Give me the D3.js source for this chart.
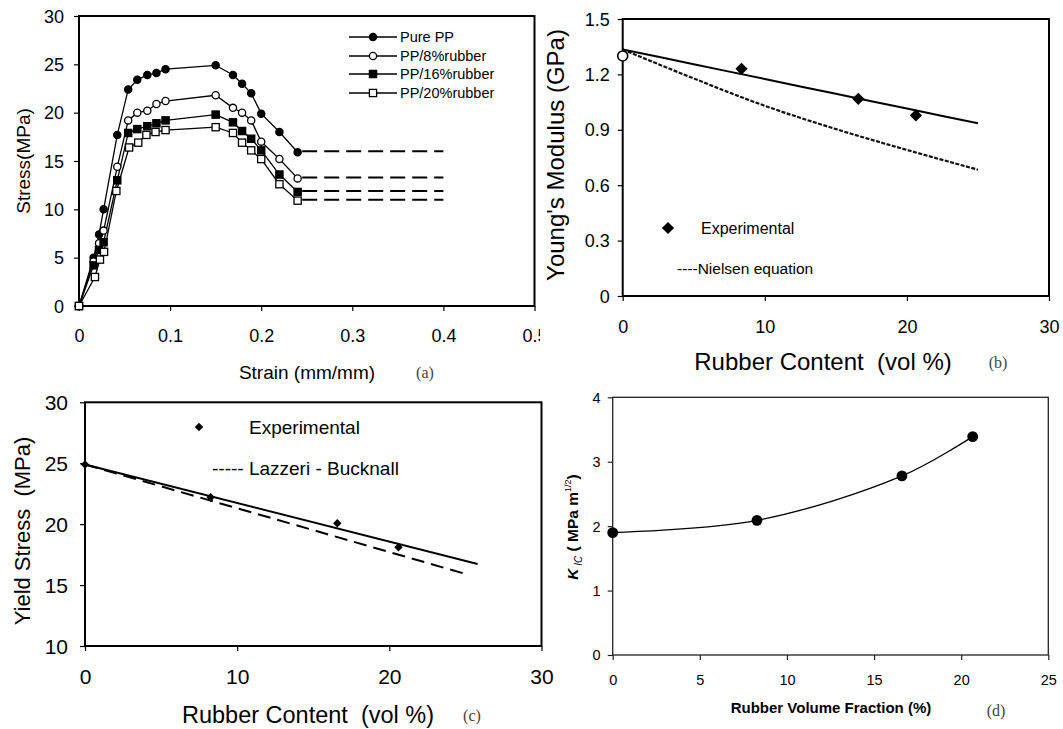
<!DOCTYPE html>
<html><head><meta charset="utf-8">
<script src="https://cdn.jsdelivr.net/npm/d3@7"></script>
<style>
body{margin:0;background:#fff}
svg text{font-family:"Liberation Sans",Arial,sans-serif;fill:#000;white-space:pre}
</style>
</head><body>
<script>
// ---------- Panel (a): stress-strain curves ----------
const seriesNames = ["Pure PP","PP/8%rubber","PP/16%rubber","PP/20%rubber"];
const strainPure = [0,0.016,0.022,0.027,0.042,0.054,0.064,0.075,0.085,0.095,0.15,0.169,0.179,0.189,0.2,0.22,0.24];
const stressPure = [0,5.0,7.4,10.0,17.7,22.4,23.4,23.9,24.1,24.5,24.9,23.9,23.0,22.0,19.9,18.0,15.9];
const strain8 = [0,0.016,0.022,0.027,0.042,0.054,0.064,0.075,0.085,0.095,0.15,0.169,0.179,0.189,0.2,0.22,0.24];
const stress8 = [0,4.6,6.5,7.8,14.4,19.2,20.0,20.2,20.9,21.2,21.8,20.5,20.0,19.2,17.0,15.2,13.2];
const strain16 = [0,0.016,0.022,0.027,0.042,0.054,0.064,0.075,0.085,0.095,0.15,0.169,0.179,0.189,0.2,0.22,0.24];
const stress16 = [0,4.2,5.8,6.6,13.0,17.9,18.3,18.6,18.9,19.2,19.8,19.0,18.1,17.3,16.1,13.6,11.8];
const strain20 = [0,0.0175,0.023,0.0275,0.041,0.055,0.065,0.074,0.084,0.095,0.15,0.169,0.179,0.189,0.2,0.22,0.24];
const stress20 = [0,3.0,4.8,5.6,11.9,16.4,16.9,17.7,18.0,18.2,18.5,17.9,16.9,16.1,15.2,12.6,10.9];
const plateauLevels = [16.0,13.3,11.9,11.0];
const plateauStrain = [0.245,0.4];
const aXTicks = [0,0.1,0.2,0.3,0.4,0.5];
const aYTicks = [0,5,10,15,20,25,30];

// ---------- Panel (b): Young's modulus ----------
const bPureX = [0], bPureY = [1.3];
const bExpX = [8.36,16.58,20.63];
const bExpY = [1.23,1.068,0.978];
const bFitX = [0,5,10,15,20,25];
const bFitY = [1.335,1.255,1.175,1.095,1.015,0.935];
const bNielsenX = [0,5,10,15,20,25];
const bNielsenY = [1.335,1.178,1.03,0.904,0.791,0.684];
const bXTicks = [0,10,20,30];
const bYTicks = [0,0.3,0.6,0.9,1.2,1.5];

// ---------- Panel (c): yield stress ----------
const cExpX = [0,8.26,16.58,20.6];
const cExpY = [24.9,22.2,20.07,18.1];
const cFitX = [0,25.8];
const cFitY = [24.9,16.73];
const cLBX = [0,25.04];
const cLBY = [24.9,15.9];
const cXTicks = [0,10,20,30];
const cYTicks = [10,15,20,25,30];

// ---------- Panel (d): K_IC ----------
const dX = [0,8.28,16.6,20.66];
const dY = [1.9,2.09,2.78,3.39];
const dXTicks = [0,5,10,15,20,25];
const dYTicks = [0,1,2,3,4];

const zip = (a,b)=>a.map((v,i)=>[v,b[i]]);
const svg = d3.select("body").append("svg").attr("width",1063).attr("height",729);
const defs = svg.append("defs");
defs.append("clipPath").attr("id","clipA").append("rect").attr("x",0).attr("y",0).attr("width",540).attr("height",400);

function panel(o){
  const g = svg.append("g");
  const x = d3.scaleLinear().domain(o.xd).range([o.l,o.r]);
  const y = d3.scaleLinear().domain(o.yd).range([o.b,o.t]);
  const xa = g.append("g").attr("transform",`translate(0,${o.b})`)
    .call(d3.axisBottom(x).tickValues(o.xt).tickFormat(o.xf||(d=>d)).tickSizeOuter(0).tickSizeInner(5));
  if(o.clip) xa.attr("clip-path","url(#"+o.clip+")");
  xa.selectAll("text").attr("y",o.xoff).attr("dy","0.35em").style("font-size",o.fs+"px");
  const ya = g.append("g").attr("transform",`translate(${o.l},0)`)
    .call(d3.axisLeft(y).tickValues(o.yt).tickFormat(o.yf||(d=>d)).tickSizeOuter(0).tickSizeInner(5));
  ya.selectAll("text").attr("x",-o.yoff).attr("dy","0.34em").style("font-size",o.fs+"px");
  g.selectAll(".domain").remove();
  g.selectAll(".tick line").attr("stroke",o.frameColor||"#000").attr("stroke-width",1.2);
  g.append("rect").attr("x",o.l).attr("y",o.t).attr("width",o.r-o.l).attr("height",o.b-o.t)
    .attr("fill","none").attr("stroke",o.frameColor||"#000").attr("stroke-width",o.frameW||2);
  return {g,x,y};
}

// ===== Panel a =====
{
  const {g,x,y} = panel({xd:[0,0.5],yd:[0,30],l:79,r:534.5,t:16,b:306,xt:aXTicks,yt:aYTicks,
    xf:d=>d===0?"0":d3.format(".1f")(d), fs:18, xoff:30, yoff:15, clip:"clipA"});
  const line = d3.line().x(d=>x(d[0])).y(d=>y(d[1]));
  const series = [zip(strainPure,stressPure),zip(strain8,stress8),zip(strain16,stress16),zip(strain20,stress20)];
  const kinds = ["fc","oc","fs","os"];
  plateauLevels.forEach(v=>{
    g.append("path").attr("d",line(plateauStrain.map(s=>[s,v]))).attr("fill","none")
      .attr("stroke","#000").attr("stroke-width",2).attr("stroke-dasharray","15,7");
  });
  function marker(sel,kind,cx,cy){
    if(kind==="fc"||kind==="oc"){
      sel.append("circle").attr("cx",cx).attr("cy",cy).attr("r",3.6)
        .attr("fill",kind==="fc"?"#000":"#fff").attr("stroke","#000").attr("stroke-width",1.3);
    } else {
      sel.append("rect").attr("x",cx-3.6).attr("y",cy-3.6).attr("width",7.2).attr("height",7.2)
        .attr("fill",kind==="fs"?"#000":"#fff").attr("stroke","#000").attr("stroke-width",1.3);
    }
  }
  series.forEach(s=>{
    g.append("path").attr("d",line(s)).attr("fill","none").attr("stroke","#000").attr("stroke-width",1.3);
  });
  series.forEach((s,i)=>{ s.forEach(p=>marker(g,kinds[i],x(p[0]),y(p[1]))); });
  const ly = [37,56,74,93];
  seriesNames.forEach((n,i)=>{
    g.append("line").attr("x1",349).attr("x2",397).attr("y1",ly[i]).attr("y2",ly[i]).attr("stroke","#000").attr("stroke-width",1.3);
    marker(g,kinds[i],373,ly[i]);
    g.append("text").attr("x",400).attr("y",ly[i]).attr("dy","0.35em").style("font-size","14.5px").text(n);
  });
  svg.append("text").attr("transform","translate(23,161) rotate(-90)").attr("text-anchor","middle")
    .attr("dy","0.35em").style("font-size","19px").text("Stress(MPa)");
  svg.append("text").attr("x",307).attr("y",372).attr("text-anchor","middle").attr("dy","0.35em")
    .style("font-size","19px").text("Strain (mm/mm)");
  svg.append("text").attr("x",425).attr("y",372).attr("text-anchor","middle").attr("dy","0.35em")
    .style("font-size","16px").style("font-family","'Liberation Serif',serif").style("fill","#444").text("(a)");
}

// ===== Panel b =====
{
  const {g,x,y} = panel({xd:[0,30],yd:[0,1.5],l:622.7,r:1049,t:19,b:296,xt:bXTicks,yt:bYTicks,
    yf:d=>d===0?"0":d3.format(".1f")(d), fs:18, xoff:31, yoff:13});
  const line = d3.line().x(d=>x(d[0])).y(d=>y(d[1])).curve(d3.curveMonotoneX);
  g.append("path").attr("d",line(zip(bNielsenX,bNielsenY))).attr("fill","none").attr("stroke","#111")
    .attr("stroke-width",2.2).attr("stroke-dasharray","4,1.5");
  g.append("path").attr("d",line(zip(bFitX,bFitY))).attr("fill","none").attr("stroke","#000").attr("stroke-width",2);
  zip(bPureX,bPureY).forEach(p=>{
    g.append("circle").attr("cx",x(p[0])).attr("cy",y(p[1])).attr("r",5).attr("fill","#fff")
      .attr("stroke","#000").attr("stroke-width",1.6);
  });
  const dia = d3.symbol(d3.symbolSquare,75);
  zip(bExpX,bExpY).forEach(p=>{
    g.append("path").attr("d",dia()).attr("transform",`translate(${x(p[0])},${y(p[1])}) rotate(45)`).attr("fill","#000");
  });
  g.append("path").attr("d",dia()).attr("transform","translate(668,228) rotate(45)").attr("fill","#000");
  g.append("text").attr("x",701).attr("y",228).attr("dy","0.35em").style("font-size","16px").text("Experimental");
  g.append("text").attr("x",677).attr("y",269).attr("dy","0.35em").style("font-size","15.5px").text("----Nielsen equation");
  svg.append("text").attr("transform","translate(556,155) rotate(-90)").attr("text-anchor","middle")
    .attr("dy","0.35em").style("font-size","24px").text("Young's Modulus (GPa)");
  svg.append("text").attr("x",823).attr("y",362).attr("text-anchor","middle").attr("dy","0.35em")
    .style("font-size","24px").text("Rubber Content  (vol %)");
  svg.append("text").attr("x",998).attr("y",362).attr("text-anchor","middle").attr("dy","0.35em")
    .style("font-size","16px").style("font-family","'Liberation Serif',serif").style("fill","#444").text("(b)");
}

// ===== Panel c =====
{
  const {g,x,y} = panel({xd:[0,30],yd:[10,30],l:85,r:541.5,t:402.3,b:646,xt:cXTicks,yt:cYTicks,
    fs:21, xoff:31, yoff:17});
  const line = d3.line().x(d=>x(d[0])).y(d=>y(d[1]));
  g.append("path").attr("d",line(zip(cLBX,cLBY))).attr("fill","none").attr("stroke","#000")
    .attr("stroke-width",2).attr("stroke-dasharray","13,7");
  g.append("path").attr("d",line(zip(cFitX,cFitY))).attr("fill","none").attr("stroke","#000").attr("stroke-width",2);
  const dia = d3.symbol(d3.symbolSquare,36);
  zip(cExpX,cExpY).forEach(p=>{
    g.append("path").attr("d",dia()).attr("transform",`translate(${x(p[0])},${y(p[1])}) rotate(45)`).attr("fill","#000");
  });
  g.append("path").attr("d",dia()).attr("transform","translate(199,427) rotate(45)").attr("fill","#000");
  g.append("text").attr("x",249).attr("y",427).attr("dy","0.35em").style("font-size","19px").text("Experimental");
  g.append("text").attr("x",212).attr("y",468).attr("dy","0.35em").style("font-size","19px").text("----- Lazzeri - Bucknall");
  svg.append("text").attr("transform","translate(22,531) rotate(-90)").attr("text-anchor","middle")
    .attr("dy","0.35em").style("font-size","22px").text("Yield Stress  (MPa)");
  svg.append("text").attr("x",308).attr("y",715).attr("text-anchor","middle").attr("dy","0.35em")
    .style("font-size","23.5px").text("Rubber Content  (vol %)");
  svg.append("text").attr("x",472).attr("y",715).attr("text-anchor","middle").attr("dy","0.35em")
    .style("font-size","16px").style("font-family","'Liberation Serif',serif").style("fill","#444").text("(c)");
}

// ===== Panel d =====
{
  const {g,x,y} = panel({xd:[0,25],yd:[0,4],l:612.7,r:1048.3,t:397.3,b:655,xt:dXTicks,yt:dYTicks,
    fs:14.5, xoff:25, yoff:12, frameColor:"#222", frameW:1.3});
  const line = d3.line().x(d=>x(d[0])).y(d=>y(d[1])).curve(d3.curveCatmullRom);
  g.append("path").attr("d",line(zip(dX,dY))).attr("fill","none").attr("stroke","#000").attr("stroke-width",1.3);
  zip(dX,dY).forEach(p=>{
    g.append("circle").attr("cx",x(p[0])).attr("cy",y(p[1])).attr("r",5.4).attr("fill","#000");
  });
  const t = svg.append("text").attr("transform","translate(573,527) rotate(-90)").attr("text-anchor","middle")
    .attr("dy","0.35em").style("font-size","15.5px").style("font-weight","bold");
  t.append("tspan").style("font-style","italic").text("K");
  t.append("tspan").style("font-style","italic").style("font-size","10px").style("font-weight","normal").attr("dy",4).text(" IC");
  t.append("tspan").attr("dy",-4).text(" ( MPa m");
  t.append("tspan").style("font-size","9px").style("font-weight","normal").attr("dy",-7).text("1/2");
  t.append("tspan").attr("dy",7).text(")");
  svg.append("text").attr("x",831).attr("y",708).attr("text-anchor","middle").attr("dy","0.35em")
    .style("font-size","15px").style("font-weight","bold").text("Rubber Volume Fraction (%)");
  svg.append("text").attr("x",996).attr("y",710).attr("text-anchor","middle").attr("dy","0.35em")
    .style("font-size","16px").style("font-family","'Liberation Serif',serif").style("fill","#444").text("(d)");
}
</script>
</body></html>
